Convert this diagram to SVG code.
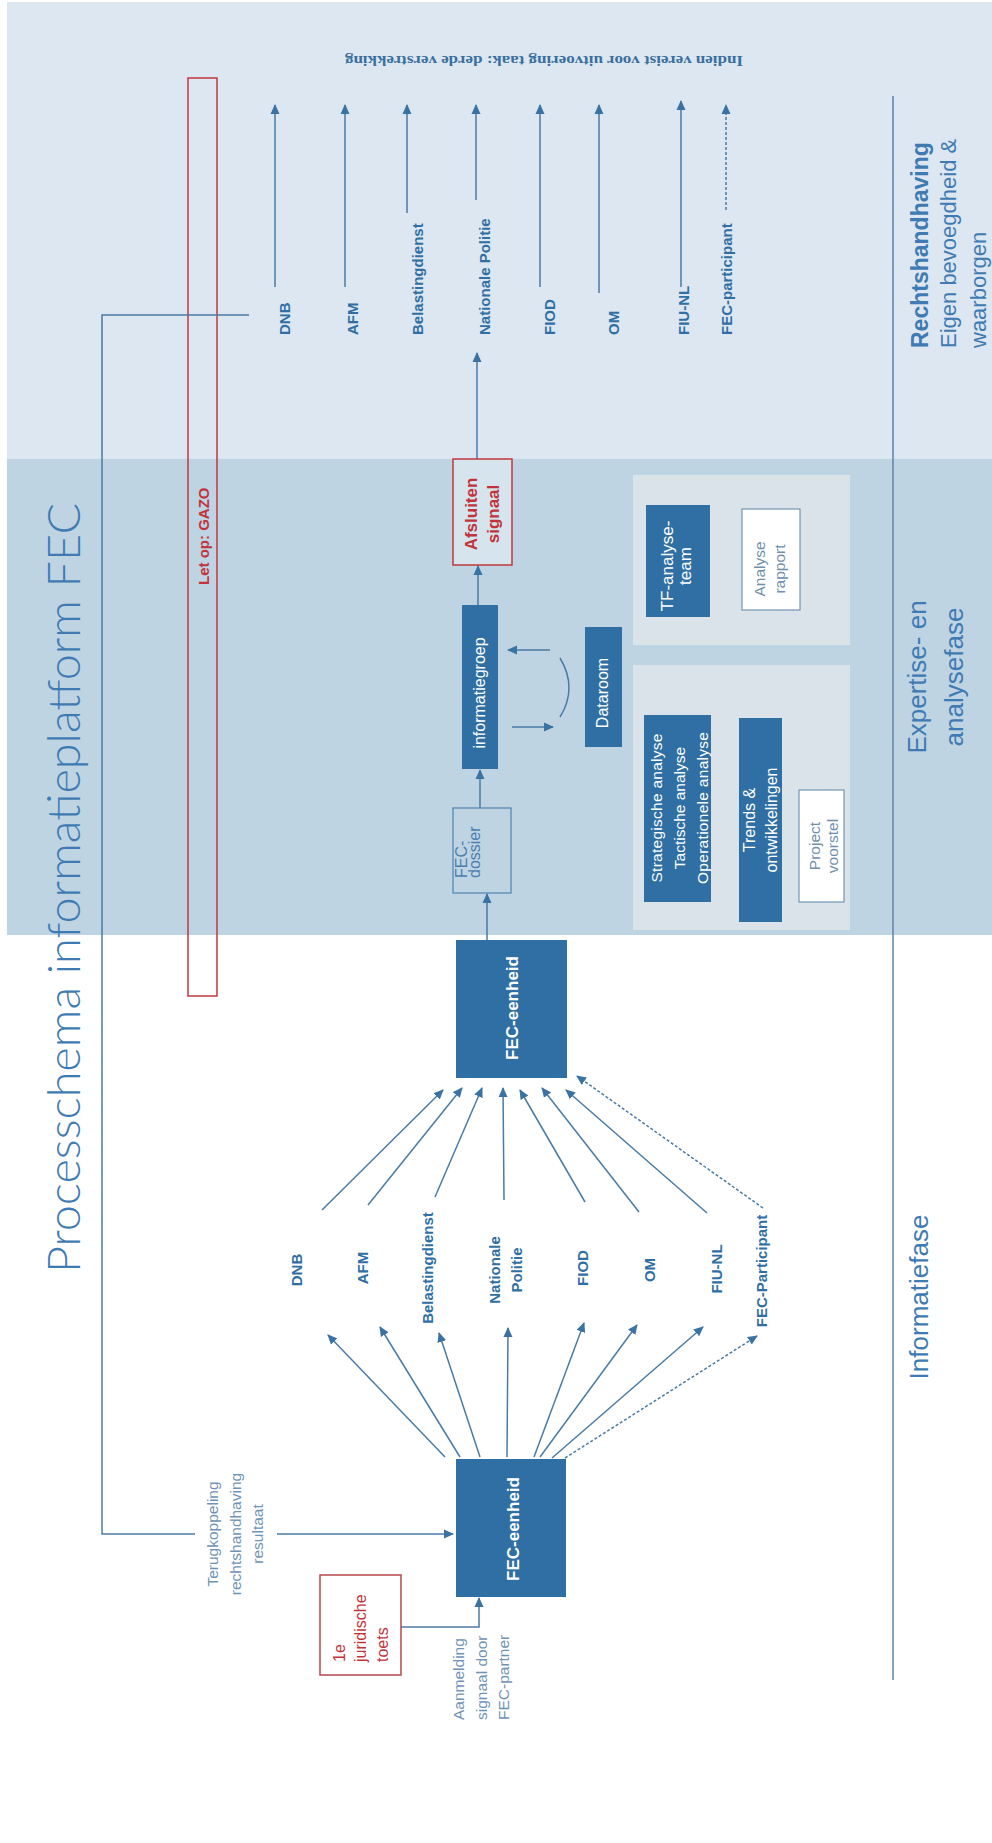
<svg xmlns="http://www.w3.org/2000/svg" width="992" height="1843" viewBox="0 0 992 1843">
<defs>
<style>
text{font-family:"Liberation Sans",Arial,sans-serif}
.c{stroke:#4a7ba5;stroke-width:1.5;fill:none}
.ca{stroke:#4a7ba5;stroke-width:1.5;fill:none;marker-end:url(#ah)}
.d{stroke-dasharray:3 2}
.dark{fill:#2f6fa3}
.wt{fill:#ffffff}
.org{fill:#2f6fa3;font-weight:bold;font-size:15px}
.lt{fill:#6f93b5;font-size:15.5px}
.red{fill:#c2343a}
.head{fill:#3f7bb3}
.pan{fill:#dbe3ea}
</style>
<marker id="ah" viewBox="0 0 10 10" refX="9" refY="5" markerWidth="10" markerHeight="10" markerUnits="userSpaceOnUse" orient="auto">
<path d="M0,0.5 L10,5 L0,9.5 z" fill="#3a73a3"/>
</marker>
</defs>
<rect width="992" height="1843" fill="#ffffff"/>
<g id="bands">
<rect x="7" y="2" width="985" height="457" fill="#dce7f1"/>
<rect x="7" y="459" width="985" height="476" fill="#bed4e3"/>
<line x1="893" y1="96" x2="893" y2="1680" stroke="#5b84a6" stroke-width="1.5"/>
</g>
<g id="title">
<text class="head" transform="translate(80,1273) rotate(-90)" font-size="45" style="font-family:Lato,'Liberation Sans',sans-serif;font-weight:300" textLength="770" lengthAdjust="spacingAndGlyphs">Processchema informatieplatform FEC</text>
</g>
<g id="phase-labels">
<text class="head" transform="translate(928,348) rotate(-90)" font-size="23" font-weight="bold">Rechtshandhaving</text>
<text class="head" transform="translate(956,348) rotate(-90)" font-size="22">Eigen bevoegdheid &amp;</text>
<text class="head" transform="translate(986,348) rotate(-90)" font-size="22">waarborgen</text>
<text class="head" transform="translate(926,677) rotate(-90)" font-size="26" text-anchor="middle">Expertise- en</text>
<text class="head" transform="translate(963,677) rotate(-90)" font-size="26" text-anchor="middle">analysefase</text>
<text class="head" transform="translate(928,1297) rotate(-90)" font-size="26" text-anchor="middle">Informatiefase</text>
</g>
<g id="note-derde">
<text transform="rotate(180 743 56)" x="743" y="56" fill="#3a6f9e" font-size="14" font-weight="bold" style="font-family:'Liberation Serif',serif" textLength="398" lengthAdjust="spacingAndGlyphs">Indien vereist voor uitvoering taak: derde verstrekking</text>
</g>
<g id="gazo">
<rect x="188" y="78" width="29" height="918" fill="none" stroke="#c0393b" stroke-width="1.5"/>
<text class="red" transform="translate(209,585) rotate(-90)" font-size="15" font-weight="bold">Let op: GAZO</text>
</g>
<g id="connectors">
<path class="c" d="M249,315 H102 V1534 H195"/>
<path class="ca" d="M277,1534 H453"/>
<path class="ca" d="M275,287 V105"/>
<path class="ca" d="M345,287 V105"/>
<path class="ca" d="M407,213 V105"/>
<path class="ca" d="M476,200 V105"/>
<path class="ca" d="M540,287 V105"/>
<path class="ca" d="M599,293 V105"/>
<path class="ca" d="M681,287 V101"/>
<path class="ca d" d="M726,210 V105"/>
<path class="ca" d="M477,459 V353"/>
<path class="ca" d="M478,605 V566"/>
<path class="ca" d="M480,808 V770"/>
<path class="ca" d="M487,940 V894"/>
<path class="ca" d="M550,650 H508"/>
<path class="ca" d="M512,727 H553"/>
<path class="c" d="M560,658 Q578,688 560,717"/>
<path class="ca" d="M710,562 H741"/>
<path class="ca" d="M699,902 V919 H738"/>
<path class="ca" d="M782,753 H822 V789"/>
<path class="ca" d="M445,1457 L328,1335"/>
<path class="ca" d="M460,1457 L380,1327"/>
<path class="ca" d="M480,1457 L439,1333"/>
<path class="ca" d="M507,1457 L508,1328"/>
<path class="ca" d="M534,1457 L584,1323"/>
<path class="ca" d="M540,1457 L637,1325"/>
<path class="ca" d="M552,1458 L703,1327"/>
<path class="ca d" d="M565,1458 L757,1336"/>
<path class="ca" d="M322,1210 L443,1090"/>
<path class="ca" d="M368,1205 L462,1088"/>
<path class="ca" d="M435,1197 L482,1088"/>
<path class="ca" d="M504,1200 L503,1088"/>
<path class="ca" d="M585,1202 L520,1090"/>
<path class="ca" d="M639,1212 L542,1088"/>
<path class="ca" d="M707,1213 L566,1090"/>
<path class="ca d" d="M763,1208 L577,1076"/>
<path class="ca" d="M401,1627 H479 V1598"/>
</g>
<g id="out-labels">
<text class="org" transform="translate(290,335) rotate(-90)">DNB</text>
<text class="org" transform="translate(358,335) rotate(-90)">AFM</text>
<text class="org" transform="translate(423,335) rotate(-90)">Belastingdienst</text>
<text class="org" transform="translate(490,335) rotate(-90)">Nationale Politie</text>
<text class="org" transform="translate(555,335) rotate(-90)">FIOD</text>
<text class="org" transform="translate(619,335) rotate(-90)">OM</text>
<text class="org" transform="translate(689,335) rotate(-90)">FIU-NL</text>
<text class="org" transform="translate(732,335) rotate(-90)">FEC-participant</text>
</g>
<g id="afsluiten-signaal">
<rect x="453" y="459" width="59" height="106" fill="#d6e4ee" stroke="#c0393b" stroke-width="1.5"/>
<text class="red" transform="translate(477,514) rotate(-90)" font-size="17" font-weight="bold" text-anchor="middle">Afsluiten</text>
<text class="red" transform="translate(499,514) rotate(-90)" font-size="17" font-weight="bold" text-anchor="middle">signaal</text>
</g>
<g id="informatiegroep">
<rect class="dark" x="462" y="605" width="36" height="164"/>
<text class="wt" transform="translate(485,693) rotate(-90)" font-size="16" text-anchor="middle">informatiegroep</text>
</g>
<g id="fec-dossier">
<rect x="453" y="808" width="58" height="85" fill="none" stroke="#4f82ad" stroke-width="1.2"/>
<text transform="translate(467,878) rotate(-90)" font-size="16" fill="#4a7fb0">FEC-</text>
<text transform="translate(480,878) rotate(-90)" font-size="16" fill="#4a7fb0">dossier</text>
</g>
<g id="dataroom">
<rect class="dark" x="585" y="627" width="37" height="120"/>
<text class="wt" transform="translate(608,693) rotate(-90)" font-size="16" text-anchor="middle">Dataroom</text>
</g>
<g id="panel-tf">
<rect class="pan" x="633" y="475" width="217" height="170"/>
</g>
<g id="tf-analyse-team">
<rect class="dark" x="646" y="505" width="64" height="112"/>
<text class="wt" transform="translate(673,566) rotate(-90)" font-size="17" text-anchor="middle">TF-analyse-</text>
<text class="wt" transform="translate(691,566) rotate(-90)" font-size="17" text-anchor="middle">team</text>
</g>
<g id="analyse-rapport">
<rect x="742" y="509" width="58" height="101" fill="#ffffff" stroke="#5b84a6" stroke-width="1"/>
<text transform="translate(765,569) rotate(-90)" font-size="15.5" fill="#6f8fab" text-anchor="middle">Analyse</text>
<text transform="translate(785,569) rotate(-90)" font-size="15.5" fill="#6f8fab" text-anchor="middle">rapport</text>
</g>
<g id="panel-analyse">
<rect class="pan" x="633" y="665" width="217" height="265"/>
</g>
<g id="analyse-soorten">
<rect class="dark" x="644" y="715" width="67" height="187"/>
<text class="wt" transform="translate(662,808) rotate(-90)" font-size="15.5" text-anchor="middle" textLength="149">Strategische analyse</text>
<text class="wt" transform="translate(685,808) rotate(-90)" font-size="15.5" text-anchor="middle">Tactische analyse</text>
<text class="wt" transform="translate(708,808) rotate(-90)" font-size="15.5" text-anchor="middle" textLength="152">Operationele analyse</text>
</g>
<g id="trends">
<rect class="dark" x="739" y="718" width="43" height="204"/>
<text class="wt" transform="translate(755,820) rotate(-90)" font-size="16" text-anchor="middle">Trends  &amp;</text>
<text class="wt" transform="translate(777,820) rotate(-90)" font-size="16" text-anchor="middle">ontwikkelingen</text>
</g>
<g id="project-voorstel">
<rect x="799" y="790" width="45" height="112" fill="#ffffff" stroke="#5b84a6" stroke-width="1"/>
<text transform="translate(820,846) rotate(-90)" font-size="15.5" fill="#6f8fab" text-anchor="middle">Project</text>
<text transform="translate(838,846) rotate(-90)" font-size="15.5" fill="#6f8fab" text-anchor="middle">voorstel</text>
</g>
<g id="fec-eenheid-ontvangst">
<rect class="dark" x="456" y="940" width="111" height="138"/>
<text class="wt" transform="translate(518,1008) rotate(-90)" font-size="17" font-weight="bold" text-anchor="middle">FEC-eenheid</text>
</g>
<g id="partner-labels">
<text class="org" transform="translate(302,1270) rotate(-90)" text-anchor="middle">DNB</text>
<text class="org" transform="translate(368,1268) rotate(-90)" text-anchor="middle">AFM</text>
<text class="org" transform="translate(433,1268) rotate(-90)" text-anchor="middle">Belastingdienst</text>
<text class="org" transform="translate(500,1270) rotate(-90)" text-anchor="middle">Nationale</text>
<text class="org" transform="translate(522,1270) rotate(-90)" text-anchor="middle">Politie</text>
<text class="org" transform="translate(588,1268) rotate(-90)" text-anchor="middle">FIOD</text>
<text class="org" transform="translate(655,1270) rotate(-90)" text-anchor="middle">OM</text>
<text class="org" transform="translate(722,1269) rotate(-90)" text-anchor="middle">FIU-NL</text>
<text class="org" transform="translate(767,1271) rotate(-90)" text-anchor="middle">FEC-Participant</text>
</g>
<g id="fec-eenheid-melding">
<rect class="dark" x="456" y="1459" width="110" height="138"/>
<text class="wt" transform="translate(519,1529) rotate(-90)" font-size="17" font-weight="bold" text-anchor="middle">FEC-eenheid</text>
</g>
<g id="terugkoppeling">
<text class="lt" transform="translate(218,1534) rotate(-90)" text-anchor="middle">Terugkoppeling</text>
<text class="lt" transform="translate(241,1534) rotate(-90)" text-anchor="middle">rechtshandhaving</text>
<text class="lt" transform="translate(263,1534) rotate(-90)" text-anchor="middle">resultaat</text>
</g>
<g id="juridische-toets">
<rect x="320" y="1575" width="81" height="100" fill="#ffffff" stroke="#b5474b" stroke-width="1.5"/>
<text class="red" transform="translate(345,1662) rotate(-90)" font-size="16">1e</text>
<text class="red" transform="translate(366,1662) rotate(-90)" font-size="16">juridische</text>
<text class="red" transform="translate(388,1662) rotate(-90)" font-size="16">toets</text>
</g>
<g id="aanmelding">
<text class="lt" transform="translate(464,1720) rotate(-90)" font-size="16">Aanmelding</text>
<text class="lt" transform="translate(487,1720) rotate(-90)" font-size="16">signaal door</text>
<text class="lt" transform="translate(509,1720) rotate(-90)" font-size="16">FEC-partner</text>
</g>
</svg>
